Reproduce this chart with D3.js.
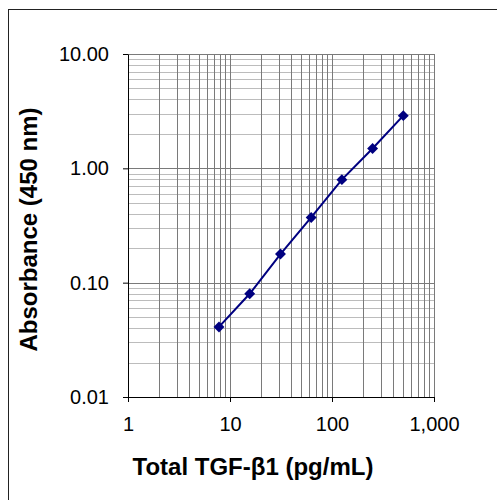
<!DOCTYPE html>
<html>
<head>
<meta charset="utf-8">
<script src="https://cdn.jsdelivr.net/npm/d3@7"></script>
<style>
  body { margin: 0; background: #fff; }
  text { font-family: "Liberation Sans", Arial, sans-serif; }
</style>
</head>
<body>
<div id="vis"></div>
<script>
// standard curve data
var concentrations = [7.8, 15.6, 31.25, 62.5, 125, 250, 500];
var absorbance = [0.041, 0.080, 0.178, 0.372, 0.796, 1.49, 2.89];
var xTicks = [1, 10, 100, 1000];
var yTicks = [0.01, 0.1, 1, 10];
var xTitle = 'Total TGF-\u03b21 (pg/mL)';
var yTitle = 'Absorbance (450 nm)';

var width = 497, height = 500;
var plot = {left: 128, top: 54, right: 434, bottom: 397};

var svg = d3.select('#vis')
	.append('svg')
	.attr('width', width)
	.attr('height', height);

// outer frame, runs off the right and bottom edge
svg.append('rect')
	.attr('x', 8.5)
	.attr('y', 9.5)
	.attr('width', 520)
	.attr('height', 520)
	.attr('fill', 'none')
	.attr('stroke', '#222');

var x = d3.scaleLog().domain([1, 1000]).range([plot.left, plot.right]);
var y = d3.scaleLog().domain([0.01, 10]).range([plot.bottom, plot.top]);

function isMajor(v) {
	var l = Math.log10(v);
	return Math.abs(l - Math.round(l)) < 1e-9;
}

// grid lines
var grid = svg.append('g').attr('shape-rendering', 'crispEdges');

grid.selectAll('.hgrid')
	.data(y.ticks().filter(function(d) { return d > 0.01; }))
	.enter()
	.append('line')
	.attr('x1', plot.left)
	.attr('x2', plot.right)
	.attr('y1', function(d) { return Math.round(y(d)) + 0.5; })
	.attr('y2', function(d) { return Math.round(y(d)) + 0.5; })
	.attr('stroke', function(d) { return isMajor(d) ? '#7a7a7a' : '#bcbcbc'; });

grid.selectAll('.vgrid')
	.data(x.ticks().filter(function(d) { return d > 1; }))
	.enter()
	.append('line')
	.attr('y1', plot.top)
	.attr('y2', plot.bottom)
	.attr('x1', function(d) { return Math.round(x(d)) + 0.5; })
	.attr('x2', function(d) { return Math.round(x(d)) + 0.5; })
	.attr('stroke', '#7a7a7a');

// axes
var yAxis = d3.axisLeft(y)
	.tickValues(yTicks)
	.tickFormat(d3.format('.2f'))
	.tickSize(5)
	.tickSizeOuter(0)
	.tickPadding(14);

var xAxis = d3.axisBottom(x)
	.tickValues(xTicks)
	.tickFormat(d3.format(','))
	.tickSize(5)
	.tickSizeOuter(0)
	.tickPadding(15);

var gy = svg.append('g')
	.attr('transform', 'translate(' + plot.left + ',0)')
	.call(yAxis);

var gx = svg.append('g')
	.attr('transform', 'translate(0,' + plot.bottom + ')')
	.call(xAxis);

[gx, gy].forEach(function(g) {
	g.selectAll('text')
		.attr('font-size', 20)
		.attr('font-family', '"Liberation Sans", Arial, sans-serif')
		.attr('fill', '#000');
	g.selectAll('line, path').attr('stroke', '#000');
});

// curve
var line = d3.line()
	.x(function(d) { return x(d[0]); })
	.y(function(d) { return y(d[1]); });

var points = d3.zip(concentrations, absorbance);

svg.append('path')
	.datum(points)
	.attr('d', line)
	.attr('fill', 'none')
	.attr('stroke', '#000080')
	.attr('stroke-width', 2);

svg.selectAll('.marker')
	.data(points)
	.enter()
	.append('path')
	.attr('class', 'marker')
	.attr('d', d3.symbol().type(d3.symbolDiamond2).size(76))
	.attr('transform', function(d) {
		return 'translate(' + x(d[0]) + ',' + y(d[1]) + ')';
	})
	.attr('fill', '#000080');

// axis titles
svg.append('text')
	.attr('x', 253)
	.attr('y', 475)
	.attr('text-anchor', 'middle')
	.attr('font-size', 24)
	.attr('font-weight', 'bold')
	.text(xTitle);

svg.append('text')
	.attr('transform', 'translate(37,' + ((plot.top + plot.bottom) / 2 + 4) + ') rotate(-90)')
	.attr('text-anchor', 'middle')
	.attr('font-size', 24)
	.attr('font-weight', 'bold')
	.text(yTitle);
</script>
</body>
</html>
